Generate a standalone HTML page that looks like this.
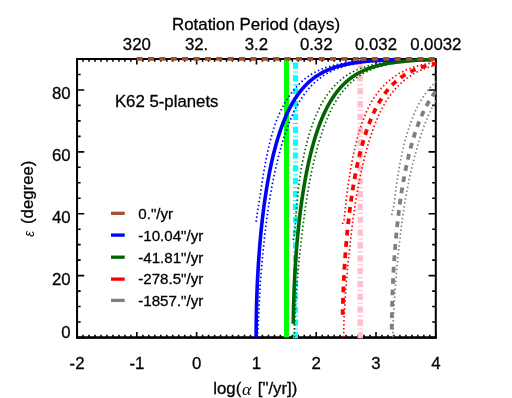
<!DOCTYPE html>
<html><head><meta charset="utf-8"><title>K62 5-planets</title>
<style>
html,body{margin:0;padding:0;background:#fff;}
body{width:512px;height:398px;overflow:hidden;position:relative;font-family:"Liberation Sans",sans-serif;}
</style></head><body>
<svg width="512" height="398" viewBox="0 0 512 398" style="position:absolute;left:0;top:0">
<defs><clipPath id="c"><rect x="77.05" y="57" width="359.35" height="281.5"/></clipPath></defs>
<g stroke="#000" stroke-width="2" fill="none">
<rect x="77.05" y="59" width="358.75" height="278.5"/>
<line x1="76.05" x2="436.8" y1="337.65" y2="337.65" stroke-width="2.3"/>
</g>
<path d="M77.05 337.50 v-5.60 M77.05 59.00 v5.60 M83.03 337.50 v-2.80 M83.03 59.00 v2.80 M89.01 337.50 v-2.80 M89.01 59.00 v2.80 M94.99 337.50 v-2.80 M94.99 59.00 v2.80 M100.97 337.50 v-2.80 M100.97 59.00 v2.80 M106.95 337.50 v-2.80 M106.95 59.00 v2.80 M112.93 337.50 v-2.80 M112.93 59.00 v2.80 M118.90 337.50 v-2.80 M118.90 59.00 v2.80 M124.88 337.50 v-2.80 M124.88 59.00 v2.80 M130.86 337.50 v-2.80 M130.86 59.00 v2.80 M136.84 337.50 v-5.60 M136.84 59.00 v5.60 M142.82 337.50 v-2.80 M142.82 59.00 v2.80 M148.80 337.50 v-2.80 M148.80 59.00 v2.80 M154.78 337.50 v-2.80 M154.78 59.00 v2.80 M160.76 337.50 v-2.80 M160.76 59.00 v2.80 M166.74 337.50 v-2.80 M166.74 59.00 v2.80 M172.72 337.50 v-2.80 M172.72 59.00 v2.80 M178.70 337.50 v-2.80 M178.70 59.00 v2.80 M184.68 337.50 v-2.80 M184.68 59.00 v2.80 M190.65 337.50 v-2.80 M190.65 59.00 v2.80 M196.63 337.50 v-5.60 M196.63 59.00 v5.60 M202.61 337.50 v-2.80 M202.61 59.00 v2.80 M208.59 337.50 v-2.80 M208.59 59.00 v2.80 M214.57 337.50 v-2.80 M214.57 59.00 v2.80 M220.55 337.50 v-2.80 M220.55 59.00 v2.80 M226.53 337.50 v-2.80 M226.53 59.00 v2.80 M232.51 337.50 v-2.80 M232.51 59.00 v2.80 M238.49 337.50 v-2.80 M238.49 59.00 v2.80 M244.47 337.50 v-2.80 M244.47 59.00 v2.80 M250.45 337.50 v-2.80 M250.45 59.00 v2.80 M256.43 337.50 v-5.60 M256.43 59.00 v5.60 M262.40 337.50 v-2.80 M262.40 59.00 v2.80 M268.38 337.50 v-2.80 M268.38 59.00 v2.80 M274.36 337.50 v-2.80 M274.36 59.00 v2.80 M280.34 337.50 v-2.80 M280.34 59.00 v2.80 M286.32 337.50 v-2.80 M286.32 59.00 v2.80 M292.30 337.50 v-2.80 M292.30 59.00 v2.80 M298.28 337.50 v-2.80 M298.28 59.00 v2.80 M304.26 337.50 v-2.80 M304.26 59.00 v2.80 M310.24 337.50 v-2.80 M310.24 59.00 v2.80 M316.22 337.50 v-5.60 M316.22 59.00 v5.60 M322.20 337.50 v-2.80 M322.20 59.00 v2.80 M328.18 337.50 v-2.80 M328.18 59.00 v2.80 M334.15 337.50 v-2.80 M334.15 59.00 v2.80 M340.13 337.50 v-2.80 M340.13 59.00 v2.80 M346.11 337.50 v-2.80 M346.11 59.00 v2.80 M352.09 337.50 v-2.80 M352.09 59.00 v2.80 M358.07 337.50 v-2.80 M358.07 59.00 v2.80 M364.05 337.50 v-2.80 M364.05 59.00 v2.80 M370.03 337.50 v-2.80 M370.03 59.00 v2.80 M376.01 337.50 v-5.60 M376.01 59.00 v5.60 M381.99 337.50 v-2.80 M381.99 59.00 v2.80 M387.97 337.50 v-2.80 M387.97 59.00 v2.80 M393.95 337.50 v-2.80 M393.95 59.00 v2.80 M399.93 337.50 v-2.80 M399.93 59.00 v2.80 M405.90 337.50 v-2.80 M405.90 59.00 v2.80 M411.88 337.50 v-2.80 M411.88 59.00 v2.80 M417.86 337.50 v-2.80 M417.86 59.00 v2.80 M423.84 337.50 v-2.80 M423.84 59.00 v2.80 M429.82 337.50 v-2.80 M429.82 59.00 v2.80 M435.80 337.50 v-5.60 M435.80 59.00 v5.60 M77.05 337.50 h7.20 M435.80 337.50 h-7.20 M77.05 322.03 h3.60 M435.80 322.03 h-3.60 M77.05 306.56 h3.60 M435.80 306.56 h-3.60 M77.05 291.08 h3.60 M435.80 291.08 h-3.60 M77.05 275.61 h7.20 M435.80 275.61 h-7.20 M77.05 260.14 h3.60 M435.80 260.14 h-3.60 M77.05 244.67 h3.60 M435.80 244.67 h-3.60 M77.05 229.19 h3.60 M435.80 229.19 h-3.60 M77.05 213.72 h7.20 M435.80 213.72 h-7.20 M77.05 198.25 h3.60 M435.80 198.25 h-3.60 M77.05 182.78 h3.60 M435.80 182.78 h-3.60 M77.05 167.31 h3.60 M435.80 167.31 h-3.60 M77.05 151.83 h7.20 M435.80 151.83 h-7.20 M77.05 136.36 h3.60 M435.80 136.36 h-3.60 M77.05 120.89 h3.60 M435.80 120.89 h-3.60 M77.05 105.42 h3.60 M435.80 105.42 h-3.60 M77.05 89.94 h7.20 M435.80 89.94 h-7.20 M77.05 74.47 h3.60 M435.80 74.47 h-3.60 M77.05 59.00 h3.60 M435.80 59.00 h-3.60" stroke="#000" stroke-width="1.6" fill="none"/>
<g clip-path="url(#c)" fill="none">
<line x1="286.5" x2="286.5" y1="59" y2="337.5" stroke="#00ff00" stroke-width="5"/>
<line x1="295.5" x2="295.5" y1="338.5" y2="59" stroke="#00ffff" stroke-width="5.2" stroke-dasharray="6.2 2.75 1.1 2.8"/>
<line x1="360.2" x2="360.2" y1="338.5" y2="59" stroke="#ffc0cb" stroke-width="5.4" stroke-dasharray="6.2 2.75 1.1 2.8"/>
<path d="M391.71 215.07 L391.76 214.83 L391.89 214.13 L392.03 213.44 L392.17 212.74 L392.30 212.04 L392.44 211.35 L392.53 210.89 L392.59 210.65 L392.78 209.96 L392.97 209.26 L393.16 208.57 L393.34 207.87 L393.49 207.33 L393.52 207.17 L393.65 206.48 L393.78 205.78 L393.91 205.09 L394.04 204.39 L394.18 203.69 L394.19 203.62 L394.26 203.00 L394.33 202.30 L394.41 201.61 L394.49 200.91 L394.57 200.21 L394.65 199.52 L394.73 198.82 L394.81 198.13 L394.90 197.43 L394.98 196.74 L395.06 196.04 L395.15 195.34 L395.23 194.65 L395.32 193.95 L395.41 193.26 L395.49 192.56 L395.58 191.86 L395.67 191.17 L395.76 190.47 L395.86 189.78 L395.95 189.08 L396.04 188.39 L396.14 187.69 L396.23 186.99 L396.33 186.30 L396.42 185.60 L396.52 184.91 L396.62 184.21 L396.72 183.51 L396.82 182.82 L396.86 182.58 L396.92 182.12 L397.02 181.43 L397.12 180.73 L397.23 180.03 L397.33 179.34 L397.43 178.64 L397.54 177.95 L397.64 177.25 L397.75 176.56 L397.86 175.86 L397.97 175.16 L398.08 174.47 L398.19 173.77 L398.30 173.08 L398.42 172.38 L398.53 171.68 L398.65 170.99 L398.76 170.29 L398.88 169.60 L399.00 168.90 L399.12 168.21 L399.24 167.51 L399.37 166.81 L399.49 166.12 L399.62 165.42 L399.74 164.73 L399.87 164.03 L400.00 163.33 L400.13 162.64 L400.26 161.94 L400.40 161.25 L400.53 160.55 L400.67 159.85 L400.80 159.16 L400.94 158.46 L401.08 157.77 L401.22 157.07 L401.37 156.38 L401.51 155.68 L401.66 154.98 L401.80 154.29 L401.95 153.59 L402.10 152.90 L402.26 152.20 L402.41 151.50 L402.56 150.81 L402.72 150.11 L402.88 149.42 L403.04 148.72 L403.20 148.03 L403.36 147.33 L403.53 146.63 L403.70 145.94 L403.82 145.44 L403.87 145.24 L404.04 144.55 L404.22 143.85 L404.40 143.15 L404.58 142.46 L404.76 141.76 L404.95 141.07 L405.14 140.37 L405.33 139.67 L405.52 138.98 L405.71 138.28 L405.91 137.59 L406.11 136.89 L406.31 136.20 L406.51 135.50 L406.71 134.80 L406.92 134.11 L407.13 133.41 L407.34 132.72 L407.55 132.02 L407.77 131.32 L407.99 130.63 L408.21 129.93 L408.44 129.24 L408.66 128.54 L408.89 127.85 L409.12 127.15 L409.36 126.45 L409.60 125.76 L409.84 125.06 L410.08 124.37 L410.33 123.67 L410.58 122.97 L410.83 122.28 L411.09 121.58 L411.35 120.89 L411.61 120.19 L411.88 119.49 L412.15 118.80 L412.43 118.10 L412.70 117.41 L412.99 116.71 L413.27 116.02 L413.56 115.32 L413.85 114.62 L414.15 113.93 L414.45 113.23 L414.76 112.54 L415.07 111.84 L415.39 111.14 L415.71 110.45 L416.03 109.75 L416.36 109.06 L416.70 108.36 L417.04 107.67 L417.38 106.97 L417.73 106.27 L418.09 105.58 L418.28 105.22 L418.46 104.88 L418.84 104.19 L419.22 103.49 L419.61 102.79 L420.01 102.10 L420.42 101.40 L420.83 100.71 L421.25 100.01 L421.68 99.31 L422.11 98.62 L422.55 97.92 L423.00 97.23 L423.46 96.53 L423.93 95.84 L424.41 95.14 L424.90 94.44 L425.40 93.75 L425.90 93.05 L426.42 92.36 L426.95 91.66 L427.50 90.96 L428.05 90.27 L428.62 89.57 L429.20 88.88 L429.79 88.18 L430.40 87.49 L431.03 86.79 L431.67 86.09 L432.33 85.40 L433.00 84.70 L433.70 84.01 L434.41 83.31 L435.15 82.61 L435.90 81.92 L436.69 81.22 L437.49 80.53 L438.33 79.83 L439.19 79.13 L440.08 78.44" stroke="#7f7f7f" stroke-width="1.7" stroke-dasharray="1.5 2.45"/>
<path d="M392.88 337.30 L392.89 336.60 L392.90 335.91 L392.91 335.21 L392.92 334.52 L392.93 333.82 L392.95 333.12 L392.96 332.43 L392.97 331.73 L392.98 331.04 L393.00 330.34 L393.01 329.65 L393.03 328.95 L393.04 328.25 L393.06 327.56 L393.07 326.86 L393.09 326.17 L393.10 325.47 L393.12 324.77 L393.14 324.08 L393.15 323.38 L393.17 322.69 L393.19 321.99 L393.21 321.30 L393.23 320.60 L393.25 319.90 L393.27 319.21 L393.29 318.51 L393.31 317.82 L393.33 317.12 L393.35 316.42 L393.37 315.73 L393.42 315.03 L393.47 314.34 L393.52 313.64 L393.57 312.94 L393.62 312.25 L393.68 311.55 L393.73 310.86 L393.78 310.16 L393.83 309.47 L393.89 308.77 L393.94 308.07 L394.00 307.38 L394.05 306.68 L394.10 305.99 L394.13 305.29 L394.16 304.59 L394.20 303.90 L394.23 303.20 L394.27 302.51 L394.30 301.81 L394.34 301.12 L394.37 300.42 L394.41 299.72 L394.45 299.03 L394.49 298.33 L394.52 297.64 L394.56 296.94 L394.61 296.24 L394.66 295.55 L394.71 294.85 L394.76 294.16 L394.81 293.46 L394.86 292.76 L394.91 292.07 L394.96 291.37 L395.01 290.68 L395.07 289.98 L395.12 289.29 L395.17 288.59 L395.22 287.89 L395.28 287.20 L395.33 286.50 L395.39 285.81 L395.44 285.11 L395.50 284.41 L395.55 283.72 L395.61 283.02 L395.67 282.33 L395.72 281.63 L395.78 280.94 L395.84 280.24 L395.90 279.54 L395.96 278.85 L396.01 278.15 L396.07 277.46 L396.13 276.76 L396.18 276.06 L396.24 275.37 L396.30 274.67 L396.36 273.98 L396.42 273.28 L396.48 272.58 L396.54 271.89 L396.60 271.19 L396.66 270.50 L396.72 269.80 L396.78 269.11 L396.85 268.41 L396.91 267.71 L396.97 267.02 L397.04 266.32 L397.10 265.63 L397.16 264.93 L397.23 264.23 L397.30 263.54 L397.36 262.84 L397.43 262.15 L397.50 261.45 L397.56 260.76 L397.63 260.06 L397.70 259.36 L397.77 258.67 L397.84 257.97 L397.91 257.28 L397.98 256.58 L398.06 255.88 L398.13 255.19 L398.21 254.49 L398.29 253.80 L398.37 253.10 L398.45 252.40 L398.53 251.71 L398.61 251.01 L398.69 250.32 L398.77 249.62 L398.85 248.93 L398.93 248.23 L399.02 247.53 L399.10 246.84 L399.18 246.14 L399.25 245.45 L399.32 244.75 L399.39 244.05 L399.47 243.36 L399.54 242.66 L399.61 241.97 L399.69 241.27 L399.76 240.58 L399.84 239.88 L399.91 239.18 L399.99 238.49 L400.07 237.79 L400.14 237.10 L400.22 236.40 L400.30 235.70 L400.38 235.01 L400.46 234.31 L400.54 233.62 L400.62 232.92 L400.70 232.22 L400.78 231.53 L400.87 230.83 L400.95 230.14 L401.03 229.44 L401.12 228.75 L401.20 228.05 L401.29 227.35 L401.37 226.66 L401.46 225.96 L401.55 225.27 L401.64 224.57 L401.72 223.87 L401.81 223.18 L401.90 222.48 L401.99 221.79 L402.09 221.09 L402.18 220.39 L402.27 219.70 L402.37 219.00 L402.47 218.31 L402.57 217.61 L402.66 216.92 L402.77 216.22 L402.87 215.52 L402.97 214.83 L403.07 214.13 L403.17 213.44 L403.28 212.74 L403.38 212.04 L403.49 211.35 L403.59 210.65 L403.70 209.96 L403.81 209.26 L403.92 208.57 L404.03 207.87 L404.13 207.17 L404.25 206.48 L404.36 205.78 L404.47 205.09 L404.58 204.39 L404.69 203.69 L404.81 203.00 L404.92 202.30 L405.04 201.61 L405.16 200.91 L405.28 200.21 L405.39 199.52 L405.51 198.82 L405.63 198.13 L405.75 197.43 L405.88 196.74 L406.00 196.04 L406.12 195.34 L406.25 194.65 L406.37 193.95 L406.50 193.26 L406.62 192.56 L406.75 191.86 L406.88 191.17 L407.01 190.47 L407.14 189.78 L407.27 189.08 L407.40 188.39 L407.54 187.69 L407.67 186.99 L407.80 186.30 L407.94 185.60 L408.08 184.91 L408.21 184.21 L408.35 183.51 L408.49 182.82 L408.63 182.12 L408.77 181.43 L408.92 180.73 L409.06 180.03 L409.20 179.34 L409.35 178.64 L409.50 177.95 L409.64 177.25 L409.79 176.56 L409.94 175.86 L410.09 175.16 L410.24 174.47 L410.40 173.77 L410.55 173.08 L410.70 172.38 L410.86 171.68 L411.02 170.99 L411.18 170.29 L411.33 169.60 L411.50 168.90 L411.66 168.21 L411.82 167.51 L411.99 166.81 L412.16 166.12 L412.33 165.42 L412.50 164.73 L412.67 164.03 L412.84 163.33 L413.02 162.64 L413.20 161.94 L413.37 161.25 L413.55 160.55 L413.73 159.85 L413.92 159.16 L414.10 158.46 L414.29 157.77 L414.47 157.07 L414.66 156.38 L414.85 155.68 L415.04 154.98 L415.23 154.29 L415.43 153.59 L415.62 152.90 L415.82 152.20 L416.02 151.50 L416.22 150.81 L416.42 150.11 L416.62 149.42 L416.83 148.72 L417.03 148.03 L417.24 147.33 L417.45 146.63 L417.66 145.94 L417.87 145.24 L418.07 144.55 L418.27 143.85 L418.47 143.15 L418.67 142.46 L418.87 141.76 L419.08 141.07 L419.29 140.37 L419.50 139.67 L419.71 138.98 L419.93 138.28 L420.14 137.59 L420.36 136.89 L420.58 136.20 L420.80 135.50 L421.03 134.80 L421.26 134.11 L421.49 133.41 L421.72 132.72 L421.95 132.02 L422.19 131.32 L422.43 130.63 L422.67 129.93 L422.92 129.24 L423.17 128.54 L423.42 127.85 L423.67 127.15 L423.93 126.45 L424.19 125.76 L424.45 125.06 L424.71 124.37 L424.98 123.67 L425.25 122.97 L425.53 122.28 L425.80 121.58 L426.08 120.89 L426.37 120.19 L426.66 119.49 L426.95 118.80 L427.24 118.10 L427.54 117.41 L427.84 116.71 L428.15 116.02 L428.46 115.32 L428.77 114.62 L429.09 113.93 L429.41 113.23 L429.74 112.54 L430.07 111.84 L430.41 111.14 L430.75 110.45 L431.10 109.75 L431.45 109.06 L431.80 108.36 L432.16 107.67 L432.53 106.97 L432.90 106.27 L433.28 105.58 L433.66 104.88 L434.05 104.19 L434.45 103.49 L434.85 102.79 L435.26 102.10 L435.68 101.40 L436.10 100.71 L436.53 100.01 L436.96 99.31 L437.41 98.62 L437.86 97.92 L438.32 97.23 L438.79 96.53 L439.27 95.84 L439.76 95.14 L440.26 94.44" stroke="#7f7f7f" stroke-width="1.7" stroke-dasharray="1.5 2.45"/>
<path d="M342.42 224.04 L342.49 223.87 L342.82 223.18 L343.14 222.48 L343.46 221.79 L343.78 221.09 L343.99 220.64 L344.02 220.39 L344.09 219.70 L344.16 219.00 L344.24 218.31 L344.31 217.61 L344.39 216.92 L344.46 216.22 L344.54 215.52 L344.61 214.83 L344.69 214.13 L344.77 213.44 L344.85 212.74 L344.92 212.04 L345.00 211.36 L345.00 211.35 L345.07 210.65 L345.14 209.96 L345.21 209.26 L345.29 208.57 L345.36 207.87 L345.43 207.17 L345.50 206.48 L345.58 205.78 L345.65 205.09 L345.73 204.39 L345.80 203.69 L345.88 203.00 L345.96 202.30 L346.04 201.61 L346.12 200.91 L346.20 200.21 L346.28 199.52 L346.36 198.82 L346.44 198.13 L346.53 197.43 L346.61 196.74 L346.70 196.04 L346.78 195.34 L346.87 194.65 L346.96 193.95 L347.04 193.26 L347.13 192.56 L347.22 191.86 L347.31 191.17 L347.41 190.47 L347.50 189.78 L347.59 189.08 L347.69 188.39 L347.78 187.69 L347.88 186.99 L347.97 186.30 L348.07 185.60 L348.17 184.91 L348.27 184.21 L348.37 183.51 L348.47 182.82 L348.58 182.12 L348.68 181.43 L348.78 180.73 L348.89 180.03 L349.00 179.34 L349.10 178.64 L349.21 177.95 L349.32 177.25 L349.43 176.56 L349.55 175.86 L349.66 175.16 L349.77 174.47 L349.89 173.77 L350.00 173.08 L350.12 172.38 L350.24 171.68 L350.36 170.99 L350.48 170.29 L350.60 169.60 L350.72 168.90 L350.85 168.21 L350.97 167.51 L351.05 167.11 L351.10 166.81 L351.22 166.12 L351.35 165.42 L351.48 164.73 L351.60 164.03 L351.73 163.33 L351.86 162.64 L352.00 161.94 L352.13 161.25 L352.26 160.55 L352.40 159.85 L352.54 159.16 L352.67 158.46 L352.81 157.77 L352.96 157.07 L353.10 156.38 L353.24 155.68 L353.39 154.98 L353.54 154.29 L353.69 153.59 L353.84 152.90 L353.99 152.20 L354.14 151.50 L354.30 150.81 L354.45 150.11 L354.61 149.42 L354.77 148.72 L354.93 148.03 L355.10 147.33 L355.26 146.63 L355.43 145.94 L355.60 145.24 L355.77 144.55 L355.94 143.85 L356.12 143.15 L356.29 142.46 L356.47 141.76 L356.65 141.07 L356.83 140.37 L357.02 139.67 L357.20 138.98 L357.39 138.28 L357.58 137.59 L357.77 136.89 L357.97 136.20 L358.17 135.50 L358.37 134.80 L358.57 134.11 L358.77 133.41 L358.98 132.72 L359.19 132.02 L359.40 131.32 L359.61 130.63 L359.82 129.97 L359.83 129.93 L360.04 129.24 L360.26 128.54 L360.49 127.85 L360.71 127.15 L360.94 126.45 L361.17 125.76 L361.40 125.06 L361.64 124.37 L361.88 123.67 L362.12 122.97 L362.37 122.28 L362.62 121.58 L362.87 120.89 L363.12 120.19 L363.38 119.49 L363.65 118.80 L363.91 118.10 L364.18 117.41 L364.46 116.71 L364.73 116.02 L365.02 115.32 L365.30 114.62 L365.59 113.93 L365.89 113.23 L366.18 112.54 L366.49 111.84 L366.80 111.14 L367.11 110.45 L367.43 109.75 L367.75 109.06 L368.08 108.36 L368.41 107.67 L368.75 106.97 L369.09 106.27 L369.44 105.58 L369.79 104.88 L370.16 104.19 L370.52 103.49 L370.90 102.79 L371.26 102.12 L371.28 102.10 L371.70 101.40 L372.12 100.71 L372.56 100.01 L373.00 99.31 L373.45 98.62 L373.90 97.92 L374.37 97.23 L374.84 96.53 L375.32 95.84 L375.82 95.14 L376.32 94.44 L376.83 93.75 L377.35 93.05 L377.88 92.36 L378.43 91.66 L378.98 90.96 L379.55 90.27 L380.13 89.57 L380.73 88.88 L381.34 88.18 L381.96 87.49 L382.60 86.79 L383.25 86.09 L383.93 85.40 L384.62 84.70 L385.32 84.01 L386.05 83.31 L386.80 82.61 L387.57 81.92 L388.37 81.22 L389.19 80.53 L389.27 80.46 L390.02 79.83 L390.88 79.13 L391.77 78.44 L392.69 77.74 L393.64 77.05 L394.63 76.35 L395.67 75.66 L396.75 74.96 L397.87 74.26 L399.05 73.57 L400.29 72.87 L401.59 72.18 L402.97 71.48 L404.42 70.78 L405.95 70.09 L407.59 69.39 L409.34 68.70 L411.22 68.00 L413.25 67.31 L415.45 66.61 L417.86 65.91 L420.52 65.22 L423.48 64.52 L426.84 63.83 L430.69 63.13 L435.23 62.43" stroke="#ff0000" stroke-width="1.7" stroke-dasharray="1.5 2.45"/>
<path d="M343.61 337.30 L343.62 336.60 L343.63 335.91 L343.64 335.21 L343.66 334.52 L343.67 333.82 L343.68 333.12 L343.69 332.43 L343.70 331.73 L343.72 331.04 L343.73 330.34 L343.74 329.65 L343.76 328.95 L343.77 328.25 L343.79 327.56 L343.80 326.86 L343.82 326.17 L343.84 325.47 L343.85 324.77 L343.87 324.08 L343.89 323.38 L343.90 322.69 L343.92 321.99 L343.94 321.30 L343.96 320.60 L343.98 319.90 L344.00 319.21 L344.02 318.51 L344.04 317.82 L344.06 317.12 L344.08 316.42 L344.10 315.73 L344.15 315.03 L344.20 314.34 L344.25 313.64 L344.30 312.94 L344.36 312.25 L344.41 311.55 L344.46 310.86 L344.51 310.16 L344.57 309.47 L344.62 308.77 L344.68 308.07 L344.73 307.38 L344.79 306.68 L344.83 305.99 L344.86 305.29 L344.90 304.59 L344.93 303.90 L344.96 303.20 L345.00 302.51 L345.04 301.81 L345.07 301.12 L345.11 300.42 L345.14 299.72 L345.18 299.03 L345.22 298.33 L345.26 297.64 L345.30 296.94 L345.35 296.24 L345.39 295.55 L345.44 294.85 L345.49 294.16 L345.54 293.46 L345.59 292.76 L345.64 292.07 L345.69 291.37 L345.75 290.68 L345.80 289.98 L345.85 289.29 L345.90 288.59 L345.96 287.89 L346.01 287.20 L346.06 286.50 L346.12 285.81 L346.17 285.11 L346.23 284.41 L346.29 283.72 L346.34 283.02 L346.40 282.33 L346.46 281.63 L346.51 280.94 L346.57 280.24 L346.63 279.54 L346.69 278.85 L346.75 278.15 L346.80 277.46 L346.86 276.76 L346.92 276.06 L346.98 275.37 L347.03 274.67 L347.09 273.98 L347.15 273.28 L347.21 272.58 L347.27 271.89 L347.33 271.19 L347.39 270.50 L347.45 269.80 L347.52 269.11 L347.58 268.41 L347.64 267.71 L347.70 267.02 L347.77 266.32 L347.83 265.63 L347.90 264.93 L347.96 264.23 L348.03 263.54 L348.09 262.84 L348.16 262.15 L348.23 261.45 L348.30 260.76 L348.36 260.06 L348.43 259.36 L348.50 258.67 L348.57 257.97 L348.64 257.28 L348.71 256.58 L348.79 255.88 L348.87 255.19 L348.94 254.49 L349.02 253.80 L349.10 253.10 L349.18 252.40 L349.26 251.71 L349.34 251.01 L349.42 250.32 L349.50 249.62 L349.58 248.93 L349.67 248.23 L349.75 247.53 L349.83 246.84 L349.91 246.14 L349.98 245.45 L350.05 244.75 L350.13 244.05 L350.20 243.36 L350.27 242.66 L350.35 241.97 L350.42 241.27 L350.49 240.58 L350.57 239.88 L350.65 239.18 L350.72 238.49 L350.80 237.79 L350.88 237.10 L350.95 236.40 L351.03 235.70 L351.11 235.01 L351.19 234.31 L351.27 233.62 L351.35 232.92 L351.43 232.22 L351.52 231.53 L351.60 230.83 L351.68 230.14 L351.77 229.44 L351.85 228.75 L351.93 228.05 L352.02 227.35 L352.11 226.66 L352.19 225.96 L352.28 225.27 L352.37 224.57 L352.46 223.87 L352.55 223.18 L352.64 222.48 L352.73 221.79 L352.82 221.09 L352.91 220.39 L353.00 219.70 L353.09 219.00 L353.19 218.31 L353.28 217.61 L353.38 216.92 L353.47 216.22 L353.57 215.52 L353.67 214.83 L353.77 214.13 L353.86 213.44 L353.96 212.74 L354.06 212.04 L354.16 211.35 L354.26 210.65 L354.37 209.96 L354.47 209.26 L354.57 208.57 L354.68 207.87 L354.78 207.17 L354.89 206.48 L354.99 205.78 L355.10 205.09 L355.21 204.39 L355.32 203.69 L355.43 203.00 L355.54 202.30 L355.65 201.61 L355.76 200.91 L355.87 200.21 L355.98 199.52 L356.10 198.82 L356.21 198.13 L356.33 197.43 L356.44 196.74 L356.56 196.04 L356.68 195.34 L356.80 194.65 L356.92 193.95 L357.04 193.26 L357.16 192.56 L357.28 191.86 L357.40 191.17 L357.53 190.47 L357.65 189.78 L357.78 189.08 L357.90 188.39 L358.03 187.69 L358.16 186.99 L358.29 186.30 L358.42 185.60 L358.55 184.91 L358.68 184.21 L358.81 183.51 L358.95 182.82 L359.08 182.12 L359.22 181.43 L359.36 180.73 L359.49 180.03 L359.63 179.34 L359.77 178.64 L359.91 177.95 L360.06 177.25 L360.20 176.56 L360.34 175.86 L360.49 175.16 L360.63 174.47 L360.78 173.77 L360.93 173.08 L361.08 172.38 L361.23 171.68 L361.38 170.99 L361.53 170.29 L361.69 169.60 L361.84 168.90 L362.00 168.21 L362.16 167.51 L362.31 166.81 L362.47 166.12 L362.63 165.42 L362.79 164.73 L362.95 164.03 L363.12 163.33 L363.28 162.64 L363.45 161.94 L363.61 161.25 L363.78 160.55 L363.95 159.85 L364.12 159.16 L364.29 158.46 L364.47 157.77 L364.64 157.07 L364.82 156.38 L365.00 155.68 L365.18 154.98 L365.36 154.29 L365.54 153.59 L365.72 152.90 L365.91 152.20 L366.10 151.50 L366.29 150.81 L366.48 150.11 L366.67 149.42 L366.86 148.72 L367.06 148.03 L367.26 147.33 L367.45 146.63 L367.66 145.94 L367.86 145.24 L368.06 144.55 L368.27 143.85 L368.48 143.15 L368.69 142.46 L368.90 141.76 L369.11 141.07 L369.33 140.37 L369.55 139.67 L369.77 138.98 L369.99 138.28 L370.21 137.59 L370.44 136.89 L370.67 136.20 L370.90 135.50 L371.13 134.80 L371.37 134.11 L371.60 133.41 L371.84 132.72 L372.09 132.02 L372.33 131.32 L372.58 130.63 L372.83 129.93 L373.08 129.24 L373.33 128.54 L373.59 127.85 L373.84 127.15 L374.10 126.45 L374.37 125.76 L374.63 125.06 L374.90 124.37 L375.17 123.67 L375.45 122.97 L375.73 122.28 L376.01 121.58 L376.29 120.89 L376.58 120.19 L376.87 119.49 L377.17 118.80 L377.47 118.10 L377.77 117.41 L378.07 116.71 L378.39 116.02 L378.70 115.32 L379.02 114.62 L379.34 113.93 L379.67 113.23 L380.00 112.54 L380.33 111.84 L380.67 111.14 L381.02 110.45 L381.37 109.75 L381.72 109.06 L382.08 108.36 L382.45 107.67 L382.82 106.97 L383.20 106.27 L383.58 105.58 L383.97 104.88 L384.36 104.19 L384.76 103.49 L385.17 102.79 L385.58 102.10 L386.01 101.40 L386.46 100.71 L386.91 100.01 L387.36 99.31 L387.83 98.62 L388.30 97.92 L388.78 97.23 L389.27 96.53 L389.77 95.84 L390.28 95.14 L390.79 94.44 L391.32 93.75 L391.86 93.05 L392.41 92.36 L392.97 91.66 L393.54 90.96 L394.13 90.27 L394.72 89.57 L395.33 88.88 L395.96 88.18 L396.60 87.49 L397.25 86.79 L397.92 86.09 L398.61 85.40 L399.32 84.70 L400.04 84.01 L400.79 83.31 L401.55 82.61 L402.34 81.92 L403.15 81.22 L403.99 80.53 L404.84 79.83 L405.71 79.13 L406.62 78.44 L407.56 77.74 L408.54 77.05 L409.55 76.35 L410.60 75.66 L411.70 74.96 L412.85 74.26 L414.05 73.57 L415.30 72.87 L416.62 72.18 L418.01 71.48 L419.48 70.78 L421.04 70.09 L422.70 69.39 L424.47 68.70 L426.36 68.00 L428.41 67.31 L430.63 66.61 L433.06 65.91 L435.74 65.22 L438.73 64.52" stroke="#ff0000" stroke-width="1.7" stroke-dasharray="1.5 2.45"/>
<path d="M293.18 240.13 L293.23 239.88 L293.37 239.18 L293.50 238.49 L293.63 237.79 L293.77 237.10 L293.90 236.40 L294.04 235.70 L294.14 235.18 L294.16 235.01 L294.23 234.31 L294.31 233.62 L294.38 232.92 L294.45 232.22 L294.53 231.53 L294.61 230.83 L294.68 230.14 L294.76 229.44 L294.84 228.75 L294.92 228.05 L294.99 227.35 L295.07 226.66 L295.15 225.96 L295.24 225.27 L295.32 224.57 L295.34 224.35 L295.37 223.87 L295.41 223.18 L295.46 222.48 L295.50 221.79 L295.55 221.09 L295.59 220.39 L295.64 219.70 L295.69 219.00 L295.74 218.31 L295.79 217.61 L295.83 216.92 L295.88 216.22 L295.93 215.52 L295.99 214.83 L296.04 214.13 L296.09 213.44 L296.14 212.74 L296.20 212.04 L296.25 211.35 L296.31 210.65 L296.36 209.96 L296.42 209.26 L296.48 208.57 L296.54 207.87 L296.58 207.33 L296.59 207.17 L296.66 206.48 L296.72 205.78 L296.78 205.09 L296.84 204.39 L296.90 203.69 L296.97 203.00 L297.03 202.30 L297.10 201.61 L297.17 200.91 L297.23 200.21 L297.30 199.52 L297.37 198.82 L297.44 198.13 L297.51 197.43 L297.58 196.74 L297.65 196.04 L297.73 195.34 L297.80 194.65 L297.87 193.95 L297.95 193.26 L298.03 192.56 L298.10 191.86 L298.18 191.17 L298.26 190.47 L298.34 189.78 L298.42 189.08 L298.50 188.39 L298.58 187.69 L298.67 186.99 L298.75 186.30 L298.83 185.60 L298.92 184.91 L299.01 184.21 L299.10 183.51 L299.18 182.82 L299.27 182.12 L299.36 181.43 L299.46 180.73 L299.55 180.03 L299.64 179.34 L299.74 178.64 L299.83 177.95 L299.93 177.25 L300.03 176.56 L300.13 175.86 L300.23 175.16 L300.33 174.47 L300.43 173.77 L300.53 173.08 L300.64 172.38 L300.74 171.68 L300.85 170.99 L300.96 170.29 L300.97 170.20 L301.08 169.60 L301.20 168.90 L301.33 168.21 L301.46 167.51 L301.58 166.81 L301.71 166.12 L301.84 165.42 L301.98 164.73 L302.11 164.03 L302.24 163.33 L302.38 162.64 L302.52 161.94 L302.65 161.25 L302.79 160.55 L302.93 159.85 L303.08 159.16 L303.22 158.46 L303.37 157.77 L303.51 157.07 L303.66 156.38 L303.81 155.68 L303.96 154.98 L304.11 154.29 L304.27 153.59 L304.42 152.90 L304.58 152.20 L304.74 151.50 L304.90 150.81 L305.06 150.11 L305.23 149.42 L305.39 148.72 L305.56 148.03 L305.73 147.33 L305.90 146.63 L306.07 145.94 L306.24 145.24 L306.42 144.55 L306.60 143.85 L306.78 143.15 L306.96 142.46 L307.14 141.76 L307.33 141.07 L307.51 140.37 L307.70 139.67 L307.89 138.98 L308.09 138.28 L308.28 137.59 L308.48 136.89 L308.68 136.20 L308.88 135.50 L309.09 134.80 L309.30 134.11 L309.50 133.41 L309.72 132.72 L309.93 132.02 L310.15 131.32 L310.37 130.63 L310.57 129.97 L310.59 129.93 L310.82 129.24 L311.05 128.54 L311.28 127.85 L311.52 127.15 L311.76 126.45 L312.00 125.76 L312.24 125.06 L312.49 124.37 L312.74 123.67 L312.99 122.97 L313.25 122.28 L313.51 121.58 L313.78 120.89 L314.04 120.19 L314.31 119.49 L314.59 118.80 L314.87 118.10 L315.15 117.41 L315.43 116.71 L315.72 116.02 L316.02 115.32 L316.31 114.62 L316.62 113.93 L316.92 113.23 L317.23 112.54 L317.55 111.84 L317.87 111.14 L318.19 110.45 L318.52 109.75 L318.85 109.06 L319.19 108.36 L319.54 107.67 L319.88 106.97 L320.24 106.27 L320.60 105.58 L320.97 104.88 L321.34 104.19 L321.72 103.49 L322.10 102.79 L322.50 102.10 L322.90 101.40 L323.30 100.71 L323.72 100.01 L324.14 99.31 L324.31 99.03 L324.58 98.62 L325.03 97.92 L325.50 97.23 L325.97 96.53 L326.45 95.84 L326.94 95.14 L327.44 94.44 L327.95 93.75 L328.47 93.05 L329.01 92.36 L329.55 91.66 L330.11 90.96 L330.67 90.27 L331.25 89.57 L331.85 88.88 L332.45 88.18 L333.08 87.49 L333.72 86.79 L333.84 86.65 L334.34 86.09 L334.97 85.40 L335.61 84.70 L336.28 84.01 L336.97 83.31 L337.67 82.61 L338.40 81.92 L339.16 81.22 L339.93 80.53 L340.74 79.83 L341.57 79.13 L342.44 78.44 L343.33 77.74 L344.27 77.05 L345.24 76.35 L346.25 75.66 L347.30 74.96 L348.41 74.26 L349.56 73.57 L350.78 72.87 L352.06 72.18 L353.41 71.48 L354.02 71.18 L354.85 70.78 L356.39 70.09 L358.03 69.39 L359.78 68.70 L361.66 68.00 L363.69 67.31 L365.89 66.61 L368.30 65.91 L370.96 65.22 L373.93 64.52 L377.28 63.83 L381.14 63.13 L385.68 62.43 L391.19 61.74 L398.19 61.04 L407.83 60.35 L423.34 59.65" stroke="#006400" stroke-width="1.7" stroke-dasharray="1.5 2.45"/>
<path d="M294.37 337.30 L294.38 336.60 L294.39 335.91 L294.40 335.21 L294.41 334.52 L294.43 333.82 L294.44 333.12 L294.45 332.43 L294.46 331.73 L294.48 331.04 L294.49 330.34 L294.50 329.65 L294.52 328.95 L294.53 328.25 L294.55 327.56 L294.56 326.86 L294.58 326.17 L294.59 325.47 L294.61 324.77 L294.63 324.08 L294.65 323.38 L294.66 322.69 L294.68 321.99 L294.70 321.30 L294.72 320.60 L294.74 319.90 L294.76 319.21 L294.78 318.51 L294.80 317.82 L294.82 317.12 L294.84 316.42 L294.86 315.73 L294.91 315.03 L294.96 314.34 L295.01 313.64 L295.06 312.94 L295.12 312.25 L295.17 311.55 L295.22 310.86 L295.27 310.16 L295.33 309.47 L295.38 308.77 L295.43 308.07 L295.49 307.38 L295.54 306.68 L295.59 305.99 L295.62 305.29 L295.65 304.59 L295.69 303.90 L295.72 303.20 L295.76 302.51 L295.79 301.81 L295.83 301.12 L295.87 300.42 L295.90 299.72 L295.94 299.03 L295.98 298.33 L296.02 297.64 L296.06 296.94 L296.10 296.24 L296.15 295.55 L296.20 294.85 L296.25 294.16 L296.30 293.46 L296.35 292.76 L296.40 292.07 L296.45 291.37 L296.50 290.68 L296.56 289.98 L296.61 289.29 L296.66 288.59 L296.72 287.89 L296.77 287.20 L296.82 286.50 L296.88 285.81 L296.93 285.11 L296.99 284.41 L297.04 283.72 L297.10 283.02 L297.16 282.33 L297.21 281.63 L297.27 280.94 L297.33 280.24 L297.39 279.54 L297.45 278.85 L297.51 278.15 L297.56 277.46 L297.62 276.76 L297.68 276.06 L297.73 275.37 L297.79 274.67 L297.85 273.98 L297.91 273.28 L297.97 272.58 L298.03 271.89 L298.09 271.19 L298.15 270.50 L298.21 269.80 L298.27 269.11 L298.34 268.41 L298.40 267.71 L298.46 267.02 L298.53 266.32 L298.59 265.63 L298.66 264.93 L298.72 264.23 L298.79 263.54 L298.85 262.84 L298.92 262.15 L298.99 261.45 L299.05 260.76 L299.12 260.06 L299.19 259.36 L299.26 258.67 L299.33 257.97 L299.40 257.28 L299.47 256.58 L299.55 255.88 L299.63 255.19 L299.70 254.49 L299.78 253.80 L299.86 253.10 L299.94 252.40 L300.02 251.71 L300.10 251.01 L300.18 250.32 L300.26 249.62 L300.34 248.93 L300.42 248.23 L300.51 247.53 L300.59 246.84 L300.67 246.14 L300.74 245.45 L300.81 244.75 L300.89 244.05 L300.96 243.36 L301.03 242.66 L301.10 241.97 L301.18 241.27 L301.25 240.58 L301.33 239.88 L301.40 239.18 L301.48 238.49 L301.56 237.79 L301.63 237.10 L301.71 236.40 L301.79 235.70 L301.87 235.01 L301.95 234.31 L302.03 233.62 L302.11 232.92 L302.19 232.22 L302.27 231.53 L302.36 230.83 L302.44 230.14 L302.52 229.44 L302.61 228.75 L302.69 228.05 L302.78 227.35 L302.86 226.66 L302.95 225.96 L303.04 225.27 L303.13 224.57 L303.22 223.87 L303.30 223.18 L303.39 222.48 L303.49 221.79 L303.58 221.09 L303.67 220.39 L303.76 219.70 L303.85 219.00 L303.94 218.31 L304.03 217.61 L304.12 216.92 L304.21 216.22 L304.30 215.52 L304.39 214.83 L304.48 214.13 L304.58 213.44 L304.67 212.74 L304.76 212.04 L304.86 211.35 L304.95 210.65 L305.05 209.96 L305.15 209.26 L305.25 208.57 L305.35 207.87 L305.45 207.17 L305.55 206.48 L305.65 205.78 L305.75 205.09 L305.85 204.39 L305.95 203.69 L306.06 203.00 L306.16 202.30 L306.27 201.61 L306.37 200.91 L306.48 200.21 L306.59 199.52 L306.70 198.82 L306.81 198.13 L306.92 197.43 L307.03 196.74 L307.14 196.04 L307.25 195.34 L307.37 194.65 L307.48 193.95 L307.60 193.26 L307.71 192.56 L307.83 191.86 L307.95 191.17 L308.06 190.47 L308.18 189.78 L308.30 189.08 L308.42 188.39 L308.55 187.69 L308.67 186.99 L308.79 186.30 L308.92 185.60 L309.04 184.91 L309.17 184.21 L309.30 183.51 L309.43 182.82 L309.56 182.12 L309.69 181.43 L309.82 180.73 L309.95 180.03 L310.08 179.34 L310.22 178.64 L310.35 177.95 L310.49 177.25 L310.63 176.56 L310.77 175.86 L310.91 175.16 L311.05 174.47 L311.19 173.77 L311.33 173.08 L311.48 172.38 L311.62 171.68 L311.77 170.99 L311.92 170.29 L312.06 169.60 L312.21 168.90 L312.37 168.21 L312.52 167.51 L312.67 166.81 L312.82 166.12 L312.98 165.42 L313.13 164.73 L313.29 164.03 L313.44 163.33 L313.60 162.64 L313.76 161.94 L313.92 161.25 L314.09 160.55 L314.25 159.85 L314.42 159.16 L314.58 158.46 L314.75 157.77 L314.92 157.07 L315.09 156.38 L315.26 155.68 L315.44 154.98 L315.61 154.29 L315.79 153.59 L315.97 152.90 L316.15 152.20 L316.33 151.50 L316.51 150.81 L316.70 150.11 L316.88 149.42 L317.07 148.72 L317.26 148.03 L317.45 147.33 L317.65 146.63 L317.84 145.94 L318.04 145.24 L318.24 144.55 L318.44 143.85 L318.64 143.15 L318.85 142.46 L319.05 141.76 L319.26 141.07 L319.47 140.37 L319.68 139.67 L319.90 138.98 L320.11 138.28 L320.33 137.59 L320.55 136.89 L320.78 136.20 L321.00 135.50 L321.23 134.80 L321.46 134.11 L321.69 133.41 L321.93 132.72 L322.16 132.02 L322.40 131.32 L322.64 130.63 L322.89 129.93 L323.13 129.24 L323.37 128.54 L323.62 127.85 L323.87 127.15 L324.12 126.45 L324.38 125.76 L324.64 125.06 L324.90 124.37 L325.16 123.67 L325.43 122.97 L325.70 122.28 L325.98 121.58 L326.25 120.89 L326.53 120.19 L326.82 119.49 L327.11 118.80 L327.40 118.10 L327.69 117.41 L327.99 116.71 L328.29 116.02 L328.60 115.32 L328.91 114.62 L329.23 113.93 L329.55 113.23 L329.87 112.54 L330.20 111.84 L330.53 111.14 L330.87 110.45 L331.21 109.75 L331.56 109.06 L331.91 108.36 L332.27 107.67 L332.63 106.97 L333.00 106.27 L333.37 105.58 L333.75 104.88 L334.14 104.19 L334.53 103.49 L334.93 102.79 L335.34 102.10 L335.75 101.40 L336.17 100.71 L336.60 100.01 L337.03 99.31 L337.47 98.62 L337.93 97.92 L338.39 97.23 L338.86 96.53 L339.34 95.84 L339.83 95.14 L340.33 94.44 L340.84 93.75 L341.36 93.05 L341.89 92.36 L342.43 91.66 L342.98 90.96 L343.55 90.27 L344.12 89.57 L344.72 88.88 L345.32 88.18 L345.94 87.49 L346.58 86.79 L347.23 86.09 L347.90 85.40 L348.58 84.70 L349.29 84.01 L350.02 83.31 L350.76 82.61 L351.53 81.92 L352.32 81.22 L353.14 80.53 L353.99 79.83 L354.86 79.13 L355.76 78.44 L356.70 77.74 L357.67 77.05 L358.68 76.35 L359.73 75.66 L360.83 74.96 L361.97 74.26 L363.17 73.57 L364.42 72.87 L365.74 72.18 L367.13 71.48 L368.59 70.78 L370.15 70.09 L371.80 69.39 L373.57 68.70 L375.46 68.00 L377.51 67.31 L379.73 66.61 L382.15 65.91 L384.83 65.22 L387.81 64.52 L391.18 63.83 L395.05 63.13 L399.60 62.43 L405.13 61.74 L412.15 61.04 L421.80 60.35 L437.32 59.65" stroke="#006400" stroke-width="1.7" stroke-dasharray="1.5 2.45"/>
<path d="M256.07 221.88 L256.08 221.79 L256.18 221.09 L256.28 220.39 L256.37 219.70 L256.47 219.00 L256.57 218.31 L256.67 217.61 L256.77 216.92 L256.87 216.22 L256.97 215.52 L257.07 214.83 L257.18 214.13 L257.28 213.44 L257.38 212.74 L257.49 212.04 L257.59 211.35 L257.70 210.65 L257.81 209.96 L257.91 209.26 L258.02 208.57 L258.13 207.87 L258.24 207.17 L258.35 206.48 L258.46 205.78 L258.57 205.09 L258.69 204.39 L258.80 203.69 L258.91 203.00 L259.03 202.30 L259.14 201.61 L259.26 200.91 L259.38 200.21 L259.50 199.52 L259.61 198.82 L259.73 198.13 L259.85 197.43 L259.98 196.74 L260.10 196.04 L260.22 195.34 L260.29 194.96 L260.33 194.65 L260.42 193.95 L260.51 193.26 L260.61 192.56 L260.70 191.86 L260.79 191.17 L260.89 190.47 L260.99 189.78 L261.08 189.08 L261.18 188.39 L261.28 187.69 L261.38 186.99 L261.48 186.30 L261.58 185.60 L261.69 184.91 L261.79 184.21 L261.90 183.51 L262.00 182.82 L262.11 182.12 L262.22 181.43 L262.32 180.73 L262.43 180.03 L262.54 179.34 L262.66 178.64 L262.77 177.95 L262.88 177.25 L263.00 176.56 L263.11 175.86 L263.23 175.16 L263.35 174.47 L263.47 173.77 L263.59 173.08 L263.71 172.38 L263.83 171.68 L263.95 170.99 L264.08 170.29 L264.20 169.60 L264.33 168.90 L264.46 168.21 L264.59 167.51 L264.66 167.11 L264.71 166.81 L264.84 166.12 L264.96 165.42 L265.09 164.73 L265.22 164.03 L265.35 163.33 L265.48 162.64 L265.61 161.94 L265.74 161.25 L265.88 160.55 L266.01 159.85 L266.15 159.16 L266.29 158.46 L266.43 157.77 L266.57 157.07 L266.71 156.38 L266.86 155.68 L267.00 154.98 L267.15 154.29 L267.30 153.59 L267.45 152.90 L267.60 152.20 L267.73 151.63 L267.76 151.50 L267.91 150.81 L268.06 150.11 L268.21 149.42 L268.37 148.72 L268.52 148.03 L268.68 147.33 L268.84 146.63 L269.00 145.94 L269.17 145.24 L269.33 144.55 L269.50 143.85 L269.67 143.15 L269.84 142.46 L270.01 141.76 L270.19 141.07 L270.36 140.37 L270.54 139.67 L270.72 138.98 L270.91 138.28 L271.09 137.59 L271.28 136.89 L271.47 136.20 L271.66 135.50 L271.86 134.80 L272.05 134.11 L272.09 134.00 L272.26 133.41 L272.46 132.72 L272.67 132.02 L272.88 131.32 L273.09 130.63 L273.30 129.93 L273.52 129.24 L273.74 128.54 L273.97 127.85 L274.19 127.15 L274.42 126.45 L274.65 125.76 L274.89 125.06 L275.12 124.37 L275.36 123.67 L275.61 122.97 L275.85 122.28 L276.11 121.58 L276.36 120.89 L276.62 120.19 L276.88 119.49 L276.89 119.45 L277.16 118.80 L277.45 118.10 L277.75 117.41 L278.05 116.71 L278.35 116.02 L278.66 115.32 L278.97 114.62 L279.28 113.93 L279.60 113.23 L279.93 112.54 L280.25 111.84 L280.59 111.14 L280.92 110.45 L281.27 109.75 L281.61 109.06 L281.97 108.36 L282.32 107.67 L282.69 106.97 L283.06 106.27 L283.43 105.58 L283.63 105.22 L283.81 104.88 L284.20 104.19 L284.60 103.49 L285.00 102.79 L285.41 102.10 L285.83 101.40 L286.25 100.71 L286.69 100.01 L287.13 99.31 L287.57 98.62 L288.03 97.92 L288.49 97.23 L288.96 96.53 L289.44 95.84 L289.93 95.14 L290.43 94.44 L290.94 93.75 L291.46 93.05 L291.99 92.36 L292.53 91.66 L293.09 90.96 L293.66 90.27 L294.09 89.74 L294.23 89.57 L294.79 88.88 L295.37 88.18 L295.97 87.49 L296.58 86.79 L297.20 86.09 L297.85 85.40 L298.51 84.70 L299.19 84.01 L299.89 83.31 L300.61 82.61 L301.35 81.92 L302.12 81.22 L302.91 80.53 L303.73 79.83 L304.57 79.13 L305.45 78.44 L306.36 77.74 L307.31 77.05 L308.29 76.35 L309.32 75.66 L310.39 74.96 L311.49 74.27 L311.50 74.26 L312.67 73.57 L313.90 72.87 L315.19 72.18 L316.56 71.48 L318.00 70.78 L319.53 70.09 L321.15 69.39 L322.89 68.70 L324.76 68.00 L326.78 67.31 L328.97 66.61 L331.37 65.91 L334.02 65.22 L336.98 64.52 L340.32 63.83 L344.17 63.13 L348.70 62.43 L354.19 61.74 L361.19 61.04 L370.81 60.35 L386.31 59.65 L430.55 58.95" stroke="#0000ff" stroke-width="1.7" stroke-dasharray="1.5 2.45"/>
<path d="M257.43 337.30 L257.46 336.60 L257.50 335.91 L257.54 335.21 L257.58 334.52 L257.61 333.82 L257.65 333.12 L257.69 332.43 L257.73 331.73 L257.77 331.04 L257.81 330.34 L257.85 329.65 L257.89 328.95 L257.93 328.25 L257.97 327.56 L258.01 326.86 L258.06 326.17 L258.10 325.47 L258.14 324.77 L258.18 324.08 L258.23 323.38 L258.27 322.69 L258.32 321.99 L258.35 321.30 L258.39 320.60 L258.42 319.90 L258.46 319.21 L258.49 318.51 L258.53 317.82 L258.57 317.12 L258.60 316.42 L258.64 315.73 L258.68 315.03 L258.72 314.34 L258.75 313.64 L258.79 312.94 L258.83 312.25 L258.87 311.55 L258.91 310.86 L258.94 310.16 L258.97 309.47 L259.00 308.77 L259.03 308.07 L259.05 307.38 L259.08 306.68 L259.11 305.99 L259.14 305.29 L259.17 304.59 L259.20 303.90 L259.23 303.20 L259.26 302.51 L259.30 301.81 L259.33 301.12 L259.36 300.42 L259.39 299.72 L259.43 299.03 L259.46 298.33 L259.49 297.64 L259.53 296.94 L259.56 296.24 L259.60 295.55 L259.64 294.85 L259.67 294.16 L259.71 293.46 L259.75 292.76 L259.78 292.07 L259.82 291.37 L259.86 290.68 L259.90 289.98 L259.94 289.29 L259.98 288.59 L260.02 287.89 L260.06 287.20 L260.10 286.50 L260.14 285.81 L260.18 285.11 L260.23 284.41 L260.27 283.72 L260.31 283.02 L260.36 282.33 L260.40 281.63 L260.44 280.94 L260.49 280.24 L260.54 279.54 L260.59 278.85 L260.65 278.15 L260.70 277.46 L260.76 276.76 L260.81 276.06 L260.87 275.37 L260.93 274.67 L260.98 273.98 L261.04 273.28 L261.10 272.58 L261.16 271.89 L261.22 271.19 L261.28 270.50 L261.34 269.80 L261.40 269.11 L261.46 268.41 L261.52 267.71 L261.59 267.02 L261.65 266.32 L261.71 265.63 L261.77 264.93 L261.84 264.23 L261.90 263.54 L261.97 262.84 L262.03 262.15 L262.10 261.45 L262.16 260.76 L262.23 260.06 L262.29 259.36 L262.36 258.67 L262.42 257.97 L262.49 257.28 L262.56 256.58 L262.63 255.88 L262.69 255.19 L262.76 254.49 L262.83 253.80 L262.90 253.10 L262.97 252.40 L263.04 251.71 L263.11 251.01 L263.19 250.32 L263.26 249.62 L263.33 248.93 L263.41 248.23 L263.48 247.53 L263.55 246.84 L263.63 246.14 L263.69 245.45 L263.76 244.75 L263.83 244.05 L263.90 243.36 L263.97 242.66 L264.04 241.97 L264.12 241.27 L264.19 240.58 L264.26 239.88 L264.33 239.18 L264.41 238.49 L264.48 237.79 L264.56 237.10 L264.63 236.40 L264.71 235.70 L264.78 235.01 L264.86 234.31 L264.94 233.62 L265.02 232.92 L265.10 232.22 L265.18 231.53 L265.26 230.83 L265.34 230.14 L265.42 229.44 L265.50 228.75 L265.58 228.05 L265.66 227.35 L265.75 226.66 L265.83 225.96 L265.92 225.27 L266.00 224.57 L266.09 223.87 L266.17 223.18 L266.26 222.48 L266.35 221.79 L266.44 221.09 L266.53 220.39 L266.62 219.70 L266.71 219.00 L266.81 218.31 L266.90 217.61 L267.00 216.92 L267.10 216.22 L267.19 215.52 L267.29 214.83 L267.39 214.13 L267.49 213.44 L267.59 212.74 L267.69 212.04 L267.79 211.35 L267.90 210.65 L268.00 209.96 L268.10 209.26 L268.21 208.57 L268.31 207.87 L268.42 207.17 L268.53 206.48 L268.64 205.78 L268.74 205.09 L268.85 204.39 L268.96 203.69 L269.07 203.00 L269.18 202.30 L269.30 201.61 L269.41 200.91 L269.52 200.21 L269.64 199.52 L269.75 198.82 L269.87 198.13 L269.98 197.43 L270.10 196.74 L270.22 196.04 L270.34 195.34 L270.46 194.65 L270.58 193.95 L270.70 193.26 L270.83 192.56 L270.95 191.86 L271.07 191.17 L271.20 190.47 L271.32 189.78 L271.45 189.08 L271.58 188.39 L271.71 187.69 L271.84 186.99 L271.97 186.30 L272.10 185.60 L272.23 184.91 L272.36 184.21 L272.50 183.51 L272.63 182.82 L272.77 182.12 L272.91 181.43 L273.05 180.73 L273.18 180.03 L273.32 179.34 L273.47 178.64 L273.61 177.95 L273.75 177.25 L273.90 176.56 L274.04 175.86 L274.19 175.16 L274.33 174.47 L274.48 173.77 L274.63 173.08 L274.78 172.38 L274.94 171.68 L275.09 170.99 L275.24 170.29 L275.40 169.60 L275.55 168.90 L275.71 168.21 L275.87 167.51 L276.03 166.81 L276.19 166.12 L276.35 165.42 L276.51 164.73 L276.67 164.03 L276.83 163.33 L277.00 162.64 L277.16 161.94 L277.33 161.25 L277.50 160.55 L277.67 159.85 L277.84 159.16 L278.01 158.46 L278.18 157.77 L278.36 157.07 L278.53 156.38 L278.71 155.68 L278.89 154.98 L279.07 154.29 L279.26 153.59 L279.44 152.90 L279.63 152.20 L279.81 151.50 L280.00 150.81 L280.19 150.11 L280.38 149.42 L280.58 148.72 L280.77 148.03 L280.97 147.33 L281.17 146.63 L281.37 145.94 L281.57 145.24 L281.78 144.55 L281.98 143.85 L282.19 143.15 L282.40 142.46 L282.61 141.76 L282.83 141.07 L283.04 140.37 L283.26 139.67 L283.48 138.98 L283.70 138.28 L283.93 137.59 L284.15 136.89 L284.38 136.20 L284.61 135.50 L284.85 134.80 L285.08 134.11 L285.32 133.41 L285.56 132.72 L285.80 132.02 L286.05 131.32 L286.30 130.63 L286.54 129.93 L286.79 129.24 L287.04 128.54 L287.29 127.85 L287.54 127.15 L287.80 126.45 L288.06 125.76 L288.32 125.06 L288.58 124.37 L288.85 123.67 L289.12 122.97 L289.40 122.28 L289.67 121.58 L289.95 120.89 L290.24 120.19 L290.53 119.49 L290.82 118.80 L291.11 118.10 L291.41 117.41 L291.71 116.71 L292.02 116.02 L292.33 115.32 L292.64 114.62 L292.96 113.93 L293.29 113.23 L293.61 112.54 L293.94 111.84 L294.28 111.14 L294.62 110.45 L294.97 109.75 L295.32 109.06 L295.67 108.36 L296.03 107.67 L296.40 106.97 L296.77 106.27 L297.15 105.58 L297.54 104.88 L297.92 104.19 L298.32 103.49 L298.72 102.79 L299.13 102.10 L299.55 101.40 L299.97 100.71 L300.40 100.01 L300.84 99.31 L301.29 98.62 L301.74 97.92 L302.20 97.23 L302.67 96.53 L303.15 95.84 L303.64 95.14 L304.14 94.44 L304.65 93.75 L305.17 93.05 L305.70 92.36 L306.24 91.66 L306.79 90.96 L307.36 90.27 L307.93 89.57 L308.53 88.88 L309.13 88.18 L309.75 87.49 L310.39 86.79 L311.04 86.09 L311.71 85.40 L312.40 84.70 L313.11 84.01 L313.84 83.31 L314.58 82.61 L315.35 81.92 L316.15 81.22 L316.97 80.53 L317.81 79.83 L318.69 79.13 L319.59 78.44 L320.53 77.74 L321.50 77.05 L322.51 76.35 L323.56 75.66 L324.66 74.96 L325.80 74.26 L327.00 73.57 L328.26 72.87 L329.58 72.18 L330.96 71.48 L332.43 70.78 L333.99 70.09 L335.64 69.39 L337.41 68.70 L339.31 68.00 L341.35 67.31 L343.57 66.61 L346.00 65.91 L348.67 65.22 L351.66 64.52 L355.03 63.83 L358.90 63.13 L363.45 62.43 L368.98 61.74 L376.00 61.04 L385.65 60.35 L401.18 59.65" stroke="#0000ff" stroke-width="1.7" stroke-dasharray="1.5 2.45"/>
<path d="M391.70 329.87 L391.71 329.20 L391.71 328.52 L391.72 327.84 L391.72 327.16 L391.73 326.49 L391.74 325.81 L391.74 325.13 L391.75 324.45 L391.76 323.78 L391.76 323.10 L391.77 322.42 L391.78 321.75 L391.79 321.07 L391.80 320.39 L391.81 319.71 L391.82 319.04 L391.83 318.36 L391.84 317.68 L391.85 317.00 L391.86 316.33 L391.88 315.65 L391.89 314.97 L391.90 314.30 L391.91 313.62 L391.93 312.94 L391.94 312.26 L391.96 311.59 L391.97 310.91 L391.98 310.23 L392.00 309.55 L392.02 308.88 L392.03 308.20 L392.05 307.52 L392.07 306.85 L392.08 306.17 L392.10 305.49 L392.12 304.81 L392.14 304.14 L392.16 303.46 L392.18 302.78 L392.20 302.10 L392.22 301.43 L392.24 300.75 L392.26 300.07 L392.28 299.39 L392.30 298.72 L392.32 298.04 L392.35 297.36 L392.37 296.69 L392.39 296.01 L392.42 295.33 L392.44 294.65 L392.46 293.98 L392.49 293.30 L392.51 292.62 L392.54 291.94 L392.57 291.27 L392.59 290.59 L392.62 289.91 L392.65 289.24 L392.67 288.56 L392.70 287.88 L392.73 287.20 L392.76 286.53 L392.79 285.85 L392.82 285.17 L392.85 284.49 L392.88 283.82 L392.91 283.14 L392.94 282.46 L392.98 281.79 L393.01 281.11 L393.04 280.43 L393.07 279.75 L393.11 279.08 L393.14 278.40 L393.18 277.72 L393.21 277.04 L393.25 276.37 L393.28 275.69 L393.32 275.01 L393.35 274.34 L393.39 273.66 L393.43 272.98 L393.47 272.30 L393.50 271.63 L393.54 270.95 L393.58 270.27 L393.62 269.59 L393.66 268.92 L393.70 268.24 L393.74 267.56 L393.79 266.88 L393.83 266.21 L393.87 265.53 L393.91 264.85 L393.96 264.18 L394.00 263.50 L394.04 262.82 L394.09 262.14 L394.13 261.47 L394.18 260.79 L394.22 260.11 L394.27 259.43 L394.32 258.76 L394.36 258.08 L394.41 257.40 L394.46 256.73 L394.51 256.05 L394.56 255.37 L394.61 254.69 L394.66 254.02 L394.71 253.34 L394.76 252.66 L394.81 251.98 L394.86 251.31 L394.92 250.63 L394.97 249.95 L395.02 249.28 L395.08 248.60 L395.13 247.92 L395.19 247.24 L395.24 246.57 L395.30 245.89 L395.35 245.21 L395.41 244.53 L395.47 243.86 L395.53 243.18 L395.58 242.50 L395.64 241.82 L395.70 241.15 L395.76 240.47 L395.82 239.79 L395.88 239.12 L395.95 238.44 L396.01 237.76 L396.07 237.08 L396.13 236.41 L396.20 235.73 L396.26 235.05 L396.33 234.37 L396.39 233.70 L396.46 233.02 L396.52 232.34 L396.59 231.67 L396.66 230.99 L396.73 230.31 L396.80 229.63 L396.87 228.96 L396.93 228.28 L397.01 227.60 L397.08 226.92 L397.15 226.25 L397.22 225.57 L397.29 224.89 L397.37 224.22 L397.44 223.54 L397.51 222.86 L397.59 222.18 L397.66 221.51 L397.74 220.83 L397.82 220.15 L397.89 219.47 L397.97 218.80 L398.05 218.12 L398.13 217.44 L398.21 216.76 L398.29 216.09 L398.37 215.41 L398.45 214.73 L398.54 214.06 L398.62 213.38 L398.70 212.70 L398.79 212.02 L398.87 211.35 L398.96 210.67 L399.04 209.99 L399.13 209.31 L399.22 208.64 L399.31 207.96 L399.40 207.28 L399.49 206.61 L399.58 205.93 L399.67 205.25 L399.76 204.57 L399.85 203.90 L399.95 203.22 L400.04 202.54 L400.13 201.86 L400.23 201.19 L400.33 200.51 L400.42 199.83 L400.52 199.16 L400.62 198.48 L400.72 197.80 L400.82 197.12 L400.92 196.45 L401.02 195.77 L401.12 195.09 L401.22 194.41 L401.33 193.74 L401.43 193.06 L401.54 192.38 L401.64 191.70 L401.75 191.03 L401.86 190.35 L401.97 189.67 L402.08 189.00 L402.19 188.32 L402.30 187.64 L402.41 186.96 L402.52 186.29 L402.64 185.61 L402.75 184.93 L402.87 184.25 L402.98 183.58 L403.10 182.90 L403.22 182.22 L403.34 181.55 L403.46 180.87 L403.58 180.19 L403.70 179.51 L403.82 178.84 L403.95 178.16 L404.07 177.48 L404.20 176.80 L404.33 176.13 L404.45 175.45 L404.58 174.77 L404.71 174.10 L404.84 173.42 L404.98 172.74 L405.11 172.06 L405.24 171.39 L405.38 170.71 L405.51 170.03 L405.65 169.35 L405.79 168.68 L405.93 168.00 L406.07 167.32 L406.21 166.64 L406.35 165.97 L406.50 165.29 L406.64 164.61 L406.79 163.94 L406.94 163.26 L407.09 162.58 L407.24 161.90 L407.39 161.23 L407.54 160.55 L407.70 159.87 L407.85 159.19 L408.01 158.52 L408.17 157.84 L408.33 157.16 L408.49 156.49 L408.65 155.81 L408.81 155.13 L408.98 154.45 L409.14 153.78 L409.31 153.10 L409.48 152.42 L409.65 151.74 L409.82 151.07 L410.00 150.39 L410.17 149.71 L410.35 149.04 L410.53 148.36 L410.71 147.68 L410.89 147.00 L411.07 146.33 L411.26 145.65 L411.45 144.97 L411.64 144.29 L411.83 143.62 L412.02 142.94 L412.21 142.26 L412.41 141.58 L412.61 140.91 L412.81 140.23 L413.01 139.55 L413.21 138.88 L413.42 138.20 L413.62 137.52 L413.83 136.84 L414.04 136.17 L414.26 135.49 L414.47 134.81 L414.69 134.13 L414.91 133.46 L415.14 132.78 L415.36 132.10 L415.59 131.43 L415.82 130.75 L416.05 130.07 L416.28 129.39 L416.52 128.72 L416.76 128.04 L417.00 127.36 L417.25 126.68 L417.50 126.01 L417.75 125.33 L418.00 124.65 L418.26 123.98 L418.51 123.30 L418.78 122.62 L419.04 121.94 L419.31 121.27 L419.58 120.59 L419.86 119.91 L420.13 119.23 L420.42 118.56 L420.70 117.88 L420.99 117.20 L421.28 116.52 L421.58 115.85 L421.88 115.17 L422.18 114.49 L422.49 113.82 L422.80 113.14 L423.11 112.46 L423.43 111.78 L423.76 111.11 L424.09 110.43 L424.42 109.75 L424.76 109.07 L425.10 108.40 L425.45 107.72 L425.80 107.04 L426.16 106.37 L426.52 105.69 L426.89 105.01 L427.27 104.33 L427.65 103.66 L428.03 102.98 L428.43 102.30 L428.83 101.62 L429.23 100.95 L429.65 100.27 L430.07 99.59 L430.49 98.92 L430.93 98.24 L431.37 97.56 L431.82 96.88 L432.28 96.21 L432.75 95.53 L433.22 94.85 L433.71 94.17 L434.20 93.50 L434.71 92.82 L435.23 92.14 L435.75 91.46 L436.29 90.79 L436.84 90.11 L437.40 89.43 L437.98 88.76" stroke="#7f7f7f" stroke-width="3.8" stroke-dasharray="5.8 5.59" stroke-dashoffset="-0.42"/>
<path d="M342.62 314.71 L342.64 314.07 L342.65 313.43 L342.66 312.79 L342.68 312.15 L342.69 311.51 L342.70 310.87 L342.72 310.23 L342.73 309.60 L342.75 308.96 L342.76 308.32 L342.78 307.68 L342.79 307.04 L342.81 306.40 L342.83 305.76 L342.84 305.12 L342.86 304.48 L342.88 303.84 L342.90 303.20 L342.92 302.56 L342.93 301.92 L342.95 301.28 L342.97 300.64 L342.99 300.00 L343.01 299.37 L343.03 298.73 L343.05 298.09 L343.08 297.45 L343.10 296.81 L343.12 296.17 L343.14 295.53 L343.16 294.89 L343.19 294.25 L343.21 293.61 L343.23 292.97 L343.26 292.33 L343.28 291.69 L343.31 291.05 L343.33 290.41 L343.36 289.77 L343.38 289.13 L343.41 288.50 L343.44 287.86 L343.46 287.22 L343.49 286.58 L343.52 285.94 L343.55 285.30 L343.58 284.66 L343.60 284.02 L343.63 283.38 L343.66 282.74 L343.69 282.10 L343.72 281.46 L343.75 280.82 L343.78 280.18 L343.82 279.54 L343.85 278.90 L343.88 278.27 L343.91 277.63 L343.95 276.99 L343.98 276.35 L344.01 275.71 L344.05 275.07 L344.08 274.43 L344.12 273.79 L344.15 273.15 L344.19 272.51 L344.22 271.87 L344.26 271.23 L344.30 270.59 L344.33 269.95 L344.37 269.31 L344.41 268.67 L344.45 268.04 L344.49 267.40 L344.53 266.76 L344.57 266.12 L344.61 265.48 L344.65 264.84 L344.69 264.20 L344.73 263.56 L344.77 262.92 L344.81 262.28 L344.85 261.64 L344.90 261.00 L344.94 260.36 L344.98 259.72 L345.03 259.08 L345.07 258.44 L345.12 257.80 L345.16 257.17 L345.21 256.53 L345.25 255.89 L345.30 255.25 L345.35 254.61 L345.39 253.97 L345.44 253.33 L345.49 252.69 L345.54 252.05 L345.59 251.41 L345.64 250.77 L345.69 250.13 L345.74 249.49 L345.79 248.85 L345.84 248.21 L345.89 247.57 L345.94 246.94 L346.00 246.30 L346.05 245.66 L346.10 245.02 L346.16 244.38 L346.21 243.74 L346.27 243.10 L346.32 242.46 L346.38 241.82 L346.43 241.18 L346.49 240.54 L346.55 239.90 L346.60 239.26 L346.66 238.62 L346.72 237.98 L346.78 237.34 L346.84 236.71 L346.90 236.07 L346.96 235.43 L347.02 234.79 L347.08 234.15 L347.14 233.51 L347.21 232.87 L347.27 232.23 L347.33 231.59 L347.40 230.95 L347.46 230.31 L347.52 229.67 L347.59 229.03 L347.66 228.39 L347.72 227.75 L347.79 227.11 L347.86 226.47 L347.92 225.84 L347.99 225.20 L348.06 224.56 L348.13 223.92 L348.20 223.28 L348.27 222.64 L348.34 222.00 L348.41 221.36 L348.49 220.72 L348.56 220.08 L348.63 219.44 L348.70 218.80 L348.78 218.16 L348.85 217.52 L348.93 216.88 L349.00 216.24 L349.08 215.61 L349.16 214.97 L349.24 214.33 L349.31 213.69 L349.39 213.05 L349.47 212.41 L349.55 211.77 L349.63 211.13 L349.71 210.49 L349.79 209.85 L349.88 209.21 L349.96 208.57 L350.04 207.93 L350.13 207.29 L350.21 206.65 L350.30 206.01 L350.38 205.37 L350.47 204.74 L350.56 204.10 L350.64 203.46 L350.73 202.82 L350.82 202.18 L350.91 201.54 L351.00 200.90 L351.09 200.26 L351.19 199.62 L351.28 198.98 L351.37 198.34 L351.46 197.70 L351.56 197.06 L351.65 196.42 L351.75 195.78 L351.85 195.14 L351.94 194.51 L352.04 193.87 L352.14 193.23 L352.24 192.59 L352.34 191.95 L352.44 191.31 L352.54 190.67 L352.64 190.03 L352.75 189.39 L352.85 188.75 L352.95 188.11 L353.06 187.47 L353.16 186.83 L353.27 186.19 L353.38 185.55 L353.49 184.91 L353.60 184.28 L353.71 183.64 L353.82 183.00 L353.93 182.36 L354.04 181.72 L354.15 181.08 L354.27 180.44 L354.38 179.80 L354.50 179.16 L354.61 178.52 L354.73 177.88 L354.85 177.24 L354.97 176.60 L355.09 175.96 L355.21 175.32 L355.33 174.68 L355.45 174.04 L355.58 173.41 L355.70 172.77 L355.83 172.13 L355.95 171.49 L356.08 170.85 L356.21 170.21 L356.34 169.57 L356.47 168.93 L356.60 168.29 L356.73 167.65 L356.87 167.01 L357.00 166.37 L357.14 165.73 L357.27 165.09 L357.41 164.45 L357.55 163.81 L357.69 163.18 L357.83 162.54 L357.97 161.90 L358.12 161.26 L358.26 160.62 L358.40 159.98 L358.55 159.34 L358.70 158.70 L358.85 158.06 L359.00 157.42 L359.15 156.78 L359.30 156.14 L359.46 155.50 L359.61 154.86 L359.77 154.22 L359.92 153.58 L360.08 152.94 L360.24 152.31 L360.40 151.67 L360.57 151.03 L360.73 150.39 L360.90 149.75 L361.06 149.11 L361.23 148.47 L361.40 147.83 L361.57 147.19 L361.75 146.55 L361.92 145.91 L362.10 145.27 L362.27 144.63 L362.45 143.99 L362.63 143.35 L362.81 142.71 L363.00 142.08 L363.18 141.44 L363.37 140.80 L363.56 140.16 L363.75 139.52 L363.94 138.88 L364.14 138.24 L364.33 137.60 L364.53 136.96 L364.73 136.32 L364.93 135.68 L365.13 135.04 L365.34 134.40 L365.55 133.76 L365.75 133.12 L365.97 132.48 L366.18 131.85 L366.39 131.21 L366.61 130.57 L366.83 129.93 L367.05 129.29 L367.28 128.65 L367.50 128.01 L367.73 127.37 L367.96 126.73 L368.20 126.09 L368.43 125.45 L368.67 124.81 L368.91 124.17 L369.16 123.53 L369.40 122.89 L369.65 122.25 L369.90 121.61 L370.16 120.98 L370.42 120.34 L370.68 119.70 L370.94 119.06 L371.21 118.42 L371.48 117.78 L371.75 117.14 L372.02 116.50 L372.30 115.86 L372.59 115.22 L372.87 114.58 L373.16 113.94 L373.45 113.30 L373.75 112.66 L374.05 112.02 L374.36 111.38 L374.66 110.75 L374.98 110.11 L375.29 109.47 L375.61 108.83 L375.94 108.19 L376.27 107.55 L376.60 106.91 L376.94 106.27 L377.29 105.63 L377.64 104.99 L377.99 104.35 L378.35 103.71 L378.71 103.07 L379.08 102.43 L379.46 101.79 L379.84 101.15 L380.23 100.52 L380.62 99.88 L381.02 99.24 L381.43 98.60 L381.84 97.96 L382.26 97.32 L382.69 96.68 L383.13 96.04 L383.57 95.40 L384.02 94.76 L384.48 94.12 L384.95 93.48 L385.43 92.84 L385.91 92.20 L386.41 91.56 L386.91 90.92 L387.43 90.28 L387.96 89.65 L388.50 89.01 L389.05 88.37 L389.61 87.73 L390.18 87.09 L390.77 86.45 L391.38 85.81 L391.99 85.17 L392.63 84.53 L393.27 83.89 L393.94 83.25 L394.62 82.61 L395.33 81.97 L396.05 81.33 L396.79 80.69 L397.56 80.05 L398.35 79.42 L399.16 78.78 L400.00 78.14 L400.87 77.50 L401.77 76.86 L402.71 76.22 L403.68 75.58 L404.68 74.94 L405.73 74.30 L406.82 73.66 L407.96 73.02 L409.15 72.38 L410.40 71.74 L411.71 71.10 L413.10 70.46 L414.56 69.82 L416.11 69.18 L417.76 68.55 L419.52 67.91 L421.41 67.27 L423.44 66.63 L425.66 65.99 L428.07 65.35 L430.74 64.71 L433.71 64.07 L437.07 63.43" stroke="#ff0000" stroke-width="3.8" stroke-dasharray="5.8 5.59" stroke-dashoffset="0.38"/>
<path d="M293.25 323.68 L293.26 323.02 L293.26 322.36 L293.27 321.70 L293.28 321.04 L293.29 320.38 L293.30 319.71 L293.31 319.05 L293.32 318.39 L293.33 317.73 L293.34 317.07 L293.35 316.40 L293.36 315.74 L293.38 315.08 L293.39 314.42 L293.40 313.76 L293.42 313.10 L293.43 312.43 L293.44 311.77 L293.46 311.11 L293.47 310.45 L293.49 309.79 L293.50 309.12 L293.52 308.46 L293.53 307.80 L293.55 307.14 L293.57 306.48 L293.58 305.82 L293.60 305.15 L293.62 304.49 L293.64 303.83 L293.66 303.17 L293.68 302.51 L293.70 301.84 L293.71 301.18 L293.74 300.52 L293.76 299.86 L293.78 299.20 L293.80 298.54 L293.82 297.87 L293.84 297.21 L293.86 296.55 L293.89 295.89 L293.91 295.23 L293.93 294.56 L293.96 293.90 L293.98 293.24 L294.01 292.58 L294.03 291.92 L294.06 291.26 L294.08 290.59 L294.11 289.93 L294.14 289.27 L294.16 288.61 L294.19 287.95 L294.22 287.28 L294.25 286.62 L294.28 285.96 L294.31 285.30 L294.34 284.64 L294.37 283.97 L294.40 283.31 L294.43 282.65 L294.46 281.99 L294.49 281.33 L294.52 280.67 L294.55 280.00 L294.59 279.34 L294.62 278.68 L294.65 278.02 L294.69 277.36 L294.72 276.69 L294.75 276.03 L294.79 275.37 L294.83 274.71 L294.86 274.05 L294.90 273.39 L294.93 272.72 L294.97 272.06 L295.01 271.40 L295.05 270.74 L295.09 270.08 L295.12 269.41 L295.16 268.75 L295.20 268.09 L295.24 267.43 L295.28 266.77 L295.32 266.11 L295.37 265.44 L295.41 264.78 L295.45 264.12 L295.49 263.46 L295.54 262.80 L295.58 262.13 L295.62 261.47 L295.67 260.81 L295.71 260.15 L295.76 259.49 L295.80 258.83 L295.85 258.16 L295.90 257.50 L295.94 256.84 L295.99 256.18 L296.04 255.52 L296.09 254.85 L296.14 254.19 L296.19 253.53 L296.24 252.87 L296.29 252.21 L296.34 251.55 L296.39 250.88 L296.44 250.22 L296.49 249.56 L296.54 248.90 L296.60 248.24 L296.65 247.57 L296.70 246.91 L296.76 246.25 L296.81 245.59 L296.87 244.93 L296.92 244.27 L296.98 243.60 L297.04 242.94 L297.10 242.28 L297.15 241.62 L297.21 240.96 L297.27 240.29 L297.33 239.63 L297.39 238.97 L297.45 238.31 L297.51 237.65 L297.57 236.99 L297.63 236.32 L297.70 235.66 L297.76 235.00 L297.82 234.34 L297.89 233.68 L297.95 233.01 L298.01 232.35 L298.08 231.69 L298.15 231.03 L298.21 230.37 L298.28 229.71 L298.35 229.04 L298.42 228.38 L298.48 227.72 L298.55 227.06 L298.62 226.40 L298.69 225.73 L298.76 225.07 L298.84 224.41 L298.91 223.75 L298.98 223.09 L299.05 222.43 L299.13 221.76 L299.20 221.10 L299.28 220.44 L299.35 219.78 L299.43 219.12 L299.50 218.45 L299.58 217.79 L299.66 217.13 L299.74 216.47 L299.82 215.81 L299.90 215.15 L299.98 214.48 L300.06 213.82 L300.14 213.16 L300.22 212.50 L300.30 211.84 L300.39 211.17 L300.47 210.51 L300.55 209.85 L300.64 209.19 L300.72 208.53 L300.81 207.87 L300.90 207.20 L300.99 206.54 L301.07 205.88 L301.16 205.22 L301.25 204.56 L301.34 203.89 L301.43 203.23 L301.53 202.57 L301.62 201.91 L301.71 201.25 L301.81 200.59 L301.90 199.92 L302.00 199.26 L302.09 198.60 L302.19 197.94 L302.29 197.28 L302.38 196.61 L302.48 195.95 L302.58 195.29 L302.68 194.63 L302.78 193.97 L302.89 193.31 L302.99 192.64 L303.09 191.98 L303.20 191.32 L303.30 190.66 L303.41 190.00 L303.51 189.33 L303.62 188.67 L303.73 188.01 L303.84 187.35 L303.95 186.69 L304.06 186.02 L304.17 185.36 L304.28 184.70 L304.40 184.04 L304.51 183.38 L304.62 182.72 L304.74 182.05 L304.86 181.39 L304.97 180.73 L305.09 180.07 L305.21 179.41 L305.33 178.74 L305.45 178.08 L305.58 177.42 L305.70 176.76 L305.82 176.10 L305.95 175.44 L306.07 174.77 L306.20 174.11 L306.33 173.45 L306.46 172.79 L306.59 172.13 L306.72 171.46 L306.85 170.80 L306.98 170.14 L307.12 169.48 L307.25 168.82 L307.39 168.16 L307.53 167.49 L307.66 166.83 L307.80 166.17 L307.94 165.51 L308.09 164.85 L308.23 164.18 L308.37 163.52 L308.52 162.86 L308.66 162.20 L308.81 161.54 L308.96 160.88 L309.11 160.21 L309.26 159.55 L309.41 158.89 L309.57 158.23 L309.72 157.57 L309.88 156.90 L310.04 156.24 L310.20 155.58 L310.36 154.92 L310.52 154.26 L310.68 153.60 L310.84 152.93 L311.01 152.27 L311.18 151.61 L311.35 150.95 L311.52 150.29 L311.69 149.62 L311.86 148.96 L312.04 148.30 L312.21 147.64 L312.39 146.98 L312.57 146.32 L312.75 145.65 L312.93 144.99 L313.12 144.33 L313.30 143.67 L313.49 143.01 L313.68 142.34 L313.87 141.68 L314.06 141.02 L314.26 140.36 L314.46 139.70 L314.65 139.04 L314.85 138.37 L315.06 137.71 L315.26 137.05 L315.47 136.39 L315.67 135.73 L315.88 135.06 L316.10 134.40 L316.31 133.74 L316.53 133.08 L316.75 132.42 L316.97 131.76 L317.19 131.09 L317.42 130.43 L317.64 129.77 L317.87 129.11 L318.11 128.45 L318.34 127.78 L318.58 127.12 L318.82 126.46 L319.06 125.80 L319.31 125.14 L319.56 124.48 L319.81 123.81 L320.06 123.15 L320.32 122.49 L320.58 121.83 L320.84 121.17 L321.11 120.50 L321.38 119.84 L321.65 119.18 L321.92 118.52 L322.20 117.86 L322.48 117.20 L322.77 116.53 L323.06 115.87 L323.35 115.21 L323.65 114.55 L323.95 113.89 L324.25 113.22 L324.56 112.56 L324.87 111.90 L325.18 111.24 L325.51 110.58 L325.83 109.92 L326.16 109.25 L326.49 108.59 L326.83 107.93 L327.17 107.27 L327.52 106.61 L327.88 105.94 L328.23 105.28 L328.60 104.62 L328.97 103.96 L329.34 103.30 L329.72 102.64 L330.11 101.97 L330.50 101.31 L330.90 100.65 L331.31 99.99 L331.72 99.33 L332.14 98.66 L332.57 98.00 L333.01 97.34 L333.45 96.68 L333.90 96.02 L334.36 95.36 L334.83 94.69 L335.30 94.03 L335.79 93.37 L336.29 92.71 L336.79 92.05 L337.31 91.38 L337.83 90.72 L338.37 90.06 L338.92 89.40 L339.48 88.74 L340.06 88.07 L340.65 87.41 L341.25 86.75 L341.87 86.09 L342.50 85.43 L343.15 84.77 L343.82 84.10 L344.50 83.44 L345.20 82.78 L345.92 82.12 L346.67 81.46 L347.43 80.79 L348.22 80.13 L349.04 79.47 L349.88 78.81 L350.75 78.15 L351.65 77.49 L352.58 76.82 L353.55 76.16 L354.56 75.50 L355.60 74.84 L356.69 74.18 L357.83 73.51 L359.03 72.85 L360.28 72.19 L361.59 71.53 L362.97 70.87 L364.44 70.21 L365.99 69.54 L367.64 68.88 L369.40 68.22 L371.29 67.56 L373.33 66.90 L375.54 66.23 L377.96 65.57 L380.63 64.91 L383.60 64.25 L386.96 63.59 L390.83 62.93 L395.37 62.26 L400.87 61.60 L407.87 60.94 L417.47 60.28 L432.89 59.62" stroke="#006400" stroke-width="3.6" stroke-linejoin="round"/>
<path d="M256.13 337.30 L256.13 336.60 L256.13 335.91 L256.13 335.21 L256.13 334.52 L256.13 333.82 L256.14 333.12 L256.14 332.43 L256.14 331.73 L256.14 331.04 L256.15 330.34 L256.15 329.65 L256.16 328.95 L256.16 328.25 L256.17 327.56 L256.17 326.86 L256.18 326.17 L256.19 325.47 L256.19 324.77 L256.20 324.08 L256.21 323.38 L256.22 322.69 L256.23 321.99 L256.23 321.30 L256.24 320.60 L256.25 319.90 L256.26 319.21 L256.27 318.51 L256.29 317.82 L256.30 317.12 L256.31 316.42 L256.32 315.73 L256.33 315.03 L256.35 314.34 L256.36 313.64 L256.37 312.94 L256.39 312.25 L256.40 311.55 L256.42 310.86 L256.43 310.16 L256.45 309.47 L256.47 308.77 L256.48 308.07 L256.50 307.38 L256.52 306.68 L256.54 305.99 L256.55 305.29 L256.57 304.59 L256.59 303.90 L256.61 303.20 L256.63 302.51 L256.65 301.81 L256.67 301.12 L256.69 300.42 L256.72 299.72 L256.74 299.03 L256.76 298.33 L256.78 297.64 L256.81 296.94 L256.83 296.24 L256.86 295.55 L256.88 294.85 L256.91 294.16 L256.93 293.46 L256.96 292.76 L256.98 292.07 L257.01 291.37 L257.04 290.68 L257.06 289.98 L257.09 289.29 L257.12 288.59 L257.15 287.89 L257.18 287.20 L257.21 286.50 L257.24 285.81 L257.27 285.11 L257.30 284.41 L257.33 283.72 L257.36 283.02 L257.40 282.33 L257.43 281.63 L257.46 280.94 L257.50 280.24 L257.53 279.54 L257.57 278.85 L257.60 278.15 L257.64 277.46 L257.67 276.76 L257.71 276.06 L257.75 275.37 L257.78 274.67 L257.82 273.98 L257.86 273.28 L257.90 272.58 L257.94 271.89 L257.98 271.19 L258.02 270.50 L258.06 269.80 L258.10 269.11 L258.14 268.41 L258.18 267.71 L258.22 267.02 L258.27 266.32 L258.31 265.63 L258.35 264.93 L258.40 264.23 L258.44 263.54 L258.49 262.84 L258.53 262.15 L258.58 261.45 L258.63 260.76 L258.68 260.06 L258.72 259.36 L258.77 258.67 L258.82 257.97 L258.87 257.28 L258.92 256.58 L258.97 255.88 L259.02 255.19 L259.07 254.49 L259.12 253.80 L259.17 253.10 L259.23 252.40 L259.28 251.71 L259.33 251.01 L259.39 250.32 L259.44 249.62 L259.50 248.93 L259.55 248.23 L259.61 247.53 L259.67 246.84 L259.72 246.14 L259.78 245.45 L259.84 244.75 L259.90 244.05 L259.96 243.36 L260.02 242.66 L260.08 241.97 L260.14 241.27 L260.20 240.58 L260.26 239.88 L260.33 239.18 L260.39 238.49 L260.45 237.79 L260.52 237.10 L260.58 236.40 L260.65 235.70 L260.71 235.01 L260.78 234.31 L260.85 233.62 L260.92 232.92 L260.98 232.22 L261.05 231.53 L261.12 230.83 L261.19 230.14 L261.26 229.44 L261.33 228.75 L261.41 228.05 L261.48 227.35 L261.55 226.66 L261.63 225.96 L261.70 225.27 L261.77 224.57 L261.85 223.87 L261.93 223.18 L262.00 222.48 L262.08 221.79 L262.16 221.09 L262.24 220.39 L262.32 219.70 L262.40 219.00 L262.48 218.31 L262.56 217.61 L262.64 216.92 L262.72 216.22 L262.81 215.52 L262.89 214.83 L262.97 214.13 L263.06 213.44 L263.15 212.74 L263.23 212.04 L263.32 211.35 L263.41 210.65 L263.50 209.96 L263.59 209.26 L263.68 208.57 L263.77 207.87 L263.86 207.17 L263.95 206.48 L264.04 205.78 L264.14 205.09 L264.23 204.39 L264.33 203.69 L264.42 203.00 L264.52 202.30 L264.62 201.61 L264.72 200.91 L264.81 200.21 L264.91 199.52 L265.02 198.82 L265.12 198.13 L265.22 197.43 L265.32 196.74 L265.43 196.04 L265.53 195.34 L265.64 194.65 L265.74 193.95 L265.85 193.26 L265.96 192.56 L266.07 191.86 L266.18 191.17 L266.29 190.47 L266.40 189.78 L266.51 189.08 L266.62 188.39 L266.74 187.69 L266.85 186.99 L266.97 186.30 L267.09 185.60 L267.20 184.91 L267.32 184.21 L267.44 183.51 L267.56 182.82 L267.68 182.12 L267.81 181.43 L267.93 180.73 L268.06 180.03 L268.18 179.34 L268.31 178.64 L268.43 177.95 L268.56 177.25 L268.69 176.56 L268.82 175.86 L268.96 175.16 L269.09 174.47 L269.22 173.77 L269.36 173.08 L269.49 172.38 L269.63 171.68 L269.77 170.99 L269.91 170.29 L270.05 169.60 L270.19 168.90 L270.33 168.21 L270.48 167.51 L270.62 166.81 L270.77 166.12 L270.92 165.42 L271.07 164.73 L271.22 164.03 L271.37 163.33 L271.52 162.64 L271.68 161.94 L271.83 161.25 L271.99 160.55 L272.15 159.85 L272.31 159.16 L272.47 158.46 L272.63 157.77 L272.80 157.07 L272.96 156.38 L273.13 155.68 L273.30 154.98 L273.47 154.29 L273.64 153.59 L273.81 152.90 L273.98 152.20 L274.16 151.50 L274.34 150.81 L274.52 150.11 L274.70 149.42 L274.88 148.72 L275.07 148.03 L275.25 147.33 L275.44 146.63 L275.63 145.94 L275.82 145.24 L276.01 144.55 L276.21 143.85 L276.40 143.15 L276.60 142.46 L276.80 141.76 L277.01 141.07 L277.21 140.37 L277.42 139.67 L277.63 138.98 L277.84 138.28 L278.05 137.59 L278.27 136.89 L278.48 136.20 L278.70 135.50 L278.92 134.80 L279.15 134.11 L279.38 133.41 L279.60 132.72 L279.84 132.02 L280.07 131.32 L280.31 130.63 L280.54 129.93 L280.79 129.24 L281.03 128.54 L281.28 127.85 L281.53 127.15 L281.78 126.45 L282.04 125.76 L282.29 125.06 L282.55 124.37 L282.82 123.67 L283.09 122.97 L283.36 122.28 L283.63 121.58 L283.91 120.89 L284.19 120.19 L284.47 119.49 L284.76 118.80 L285.05 118.10 L285.35 117.41 L285.65 116.71 L285.95 116.02 L286.26 115.32 L286.57 114.62 L286.88 113.93 L287.20 113.23 L287.53 112.54 L287.85 111.84 L288.19 111.14 L288.52 110.45 L288.87 109.75 L289.21 109.06 L289.57 108.36 L289.92 107.67 L290.29 106.97 L290.66 106.27 L291.03 105.58 L291.41 104.88 L291.80 104.19 L292.19 103.49 L292.59 102.79 L292.99 102.10 L293.41 101.40 L293.83 100.71 L294.25 100.01 L294.69 99.31 L295.13 98.62 L295.58 97.92 L296.04 97.23 L296.51 96.53 L296.98 95.84 L297.47 95.14 L297.96 94.44 L298.47 93.75 L298.98 93.05 L299.51 92.36 L300.05 91.66 L300.60 90.96 L301.16 90.27 L301.73 89.57 L302.32 88.88 L302.92 88.18 L303.54 87.49 L304.17 86.79 L304.82 86.09 L305.49 85.40 L306.17 84.70 L306.87 84.01 L307.59 83.31 L308.34 82.61 L309.10 81.92 L309.89 81.22 L310.71 80.53 L311.55 79.83 L312.42 79.13 L313.32 78.44 L314.25 77.74 L315.22 77.05 L316.23 76.35 L317.27 75.66 L318.36 74.96 L319.50 74.26 L320.70 73.57 L321.95 72.87 L323.26 72.18 L324.65 71.48 L326.11 70.78 L327.66 70.09 L329.31 69.39 L331.07 68.70 L332.97 68.00 L335.01 67.31 L337.22 66.61 L339.64 65.91 L342.31 65.22 L345.29 64.52 L348.66 63.83 L352.53 63.13 L357.08 62.43 L362.60 61.74 L369.61 61.04 L379.26 60.35 L394.78 59.65" stroke="#0000ff" stroke-width="3.6" stroke-linejoin="round"/>
</g>
<line x1="136.6" x2="358.6" y1="58.9" y2="58.9" stroke="#a0522d" stroke-width="3.9" stroke-dasharray="6 5.38"/>
<line x1="360.5" x2="436.8" y1="58.9" y2="58.9" stroke="#a0522d" stroke-width="3.9" stroke-dasharray="6 5.375"/>
<line x1="111" x2="124.7" y1="213.3" y2="213.3" stroke="#a0522d" stroke-width="3.3"/>
<line x1="111" x2="124.7" y1="235.1" y2="235.1" stroke="#0000ff" stroke-width="3.3"/>
<line x1="111" x2="124.7" y1="257.2" y2="257.2" stroke="#006400" stroke-width="3.3"/>
<line x1="111" x2="124.7" y1="279.1" y2="279.1" stroke="#ff0000" stroke-width="3.3"/>
<line x1="111" x2="124.7" y1="300.4" y2="300.4" stroke="#7f7f7f" stroke-width="3.3"/>
<g font-family="'Liberation Sans', sans-serif" fill="#000" stroke="#000" stroke-width="0.3" opacity="0.999"><text x="256" y="29.5" text-anchor="middle" font-size="16.9" >Rotation Period (days)</text><text x="136.842" y="49.55" text-anchor="middle" font-size="16.8" >320</text><text x="196.633" y="49.55" text-anchor="middle" font-size="16.8" >32.</text><text x="256.425" y="49.55" text-anchor="middle" font-size="16.8" >3.2</text><text x="316.217" y="49.55" text-anchor="middle" font-size="16.8" >0.32</text><text x="376.008" y="49.55" text-anchor="middle" font-size="16.8" >0.032</text><text x="435.8" y="49.55" text-anchor="middle" font-size="16.8" >0.0032</text><text x="77.05" y="368.7" text-anchor="middle" font-size="16.8" >-2</text><text x="136.842" y="368.7" text-anchor="middle" font-size="16.8" >-1</text><text x="196.633" y="368.7" text-anchor="middle" font-size="16.8" >0</text><text x="256.425" y="368.7" text-anchor="middle" font-size="16.8" >1</text><text x="316.217" y="368.7" text-anchor="middle" font-size="16.8" >2</text><text x="376.008" y="368.7" text-anchor="middle" font-size="16.8" >3</text><text x="435.8" y="368.7" text-anchor="middle" font-size="16.8" >4</text><text x="70.6" y="338.2" text-anchor="end" font-size="16.8" >0</text><text x="70.6" y="284.511" text-anchor="end" font-size="16.8" >20</text><text x="70.6" y="222.622" text-anchor="end" font-size="16.8" >40</text><text x="70.6" y="160.733" text-anchor="end" font-size="16.8" >60</text><text x="70.6" y="98.8444" text-anchor="end" font-size="16.8" >80</text><text x="213.3" y="393.7" text-anchor="start" font-size="16.8" >log(</text><text transform="translate(241.9,394.7) scale(1.12,1.0)" font-size="16" font-style="italic" stroke="none" font-family="'Liberation Serif', serif">&#945;</text><text x="257.8" y="393.7" text-anchor="start" font-size="16.8" >[&quot;/yr])</text><text transform="translate(33.2,224.0) rotate(-90)" text-anchor="start" font-size="16.8">(degree)</text><text transform="translate(33.5,233.9) rotate(-90) scale(0.9,1.0)" text-anchor="middle" font-size="14.5" font-style="italic" stroke="none">&#949;</text><text x="114.9" y="106.8" text-anchor="start" font-size="16.8" >K62 5-planets</text><text x="138.3" y="218.8" text-anchor="start" font-size="15.1" >0.&quot;/yr</text><text x="138.3" y="240.6" text-anchor="start" font-size="15.1" >-10.04&quot;/yr</text><text x="138.3" y="262.5" text-anchor="start" font-size="15.1" >-41.81&quot;/yr</text><text x="138.3" y="284.3" text-anchor="start" font-size="15.1" >-278.5&quot;/yr</text><text x="138.3" y="305.9" text-anchor="start" font-size="15.1" >-1857.&quot;/yr</text></g>
</svg>
</body></html>
